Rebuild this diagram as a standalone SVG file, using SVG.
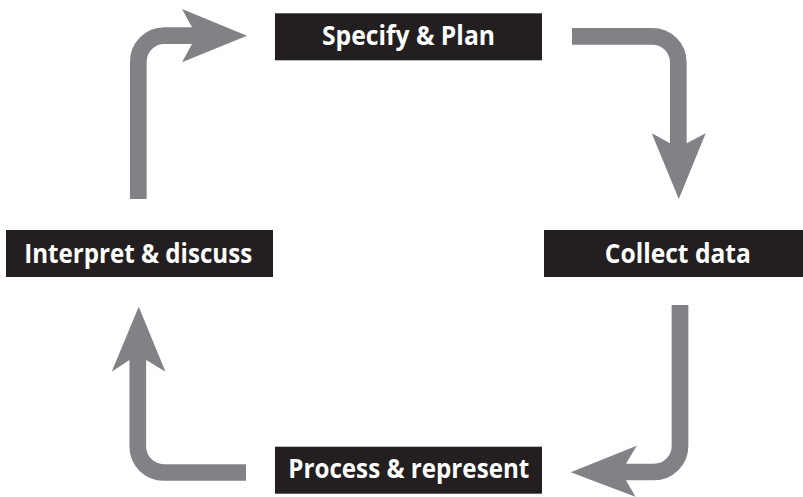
<svg xmlns="http://www.w3.org/2000/svg" width="803" height="497" viewBox="0 0 803 497">
<style>
.box{fill:#231f20}
.lbl{font-family:"Open Sans","Noto Sans","Liberation Sans",sans-serif;font-weight:bold;font-size:26px;fill:#ffffff;text-anchor:middle}
.shaft{fill:none;stroke:#808285;stroke-width:16.7;stroke-linecap:butt;stroke-linejoin:miter}
.head{fill:#808285}
</style>
<rect width="803" height="497" fill="#ffffff"/>
<g id="connectors">
  <g id="arrow-interpret-specify">
    <path class="shaft" d="M138.3,199 V62 A26,26 0 0 1 164.3,35.7 H193"/>
    <polygon class="head" points="192,27.3 182,9 247,35.7 182,62.3 192,44"/>
  </g>
  <g id="arrow-specify-collect">
    <path class="shaft" d="M572,36.3 H652 A26,26 0 0 1 678.3,62.3 V144"/>
    <polygon class="head" points="670,143.3 651.7,133.3 678.8,199 705.7,133.3 686.7,143.3"/>
  </g>
  <g id="arrow-collect-process">
    <path class="shaft" d="M680,305 V446 A26,26 0 0 1 654,472 H625"/>
    <polygon class="head" points="626,463.7 636.7,445.7 570.7,472.3 635.5,496.7 626,480.3"/>
  </g>
  <g id="arrow-process-interpret">
    <path class="shaft" d="M246,472.5 H164 A26,26 0 0 1 137.8,446.5 V359"/>
    <polygon class="head" points="146.2,360 165.5,371.7 138.7,306.7 111.7,371.7 129.4,360"/>
  </g>
</g>
<g id="node-specify">
  <rect class="box" x="275" y="13.3" width="267" height="47"/>
  <text class="lbl" x="408.5" y="45" textLength="173" lengthAdjust="spacingAndGlyphs">Specify &amp; Plan</text>
</g>
<g id="node-collect">
  <rect class="box" x="544" y="230" width="267" height="47"/>
  <text class="lbl" x="677.8" y="262.7" textLength="146" lengthAdjust="spacingAndGlyphs">Collect data</text>
</g>
<g id="node-process">
  <rect class="box" x="275" y="446.7" width="267" height="47"/>
  <text class="lbl" x="408.8" y="478.3" textLength="241" lengthAdjust="spacingAndGlyphs">Process &amp; represent</text>
</g>
<g id="node-interpret">
  <rect class="box" x="6" y="230" width="267" height="47"/>
  <text class="lbl" x="138.2" y="262.7" textLength="228" lengthAdjust="spacingAndGlyphs">Interpret &amp; discuss</text>
</g>
</svg>
